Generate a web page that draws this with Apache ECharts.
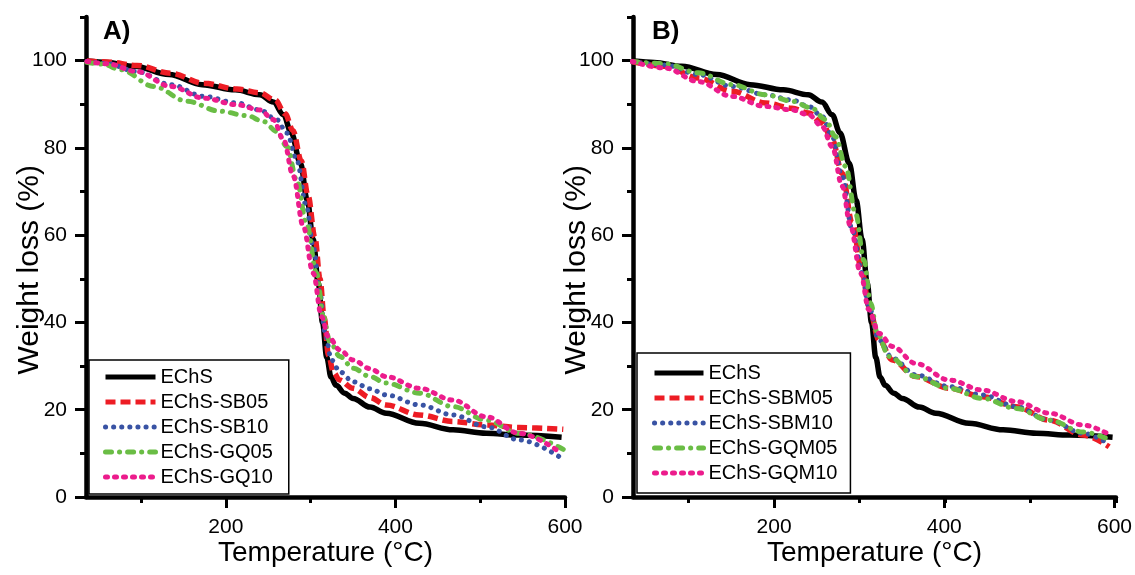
<!DOCTYPE html>
<html>
<head>
<meta charset="utf-8">
<script src="https://cdn.jsdelivr.net/npm/echarts@6/dist/echarts.min.js"></script>
<style>
html,body{margin:0;padding:0;background:#fff;}
#chart{width:1135px;height:575px;}
</style>
</head>
<body>
<div id="chart"></div>
<script>
// ---------- data ----------
const panelTitles = ['A)', 'B)'];
const xTitle = 'Temperature (°C)';
const yTitle = 'Weight loss (%)';
const namesA = ['EChS', 'EChS-SB05', 'EChS-SB10', 'EChS-GQ05', 'EChS-GQ10'];
const namesB = ['EChS', 'EChS-SBM05', 'EChS-SBM10', 'EChS-GQM05', 'EChS-GQM10'];

// EChS (shared in both panels)
const echsT = [36, 60, 92, 133, 172, 211, 240, 256, 268, 277, 288, 296, 303, 309, 314, 319, 324, 330, 340, 350, 370, 389, 428, 468, 507, 546, 596];
const echsW = [99.9, 99.6, 98.7, 96.8, 94.5, 93.3, 92.2, 90.5, 87.6, 83.5, 76.5, 68, 59, 49, 40, 32, 27.5, 25.6, 23.8, 22.6, 20.6, 19.2, 16.9, 15.4, 14.6, 14.2, 13.7];

// Panel A
const sb05T = [36, 60, 95, 135, 174, 213, 240, 258, 270, 279, 289, 297, 305, 311, 316, 321, 327, 334, 350, 370, 389, 428, 468, 507, 546, 598];
const sb05W = [99.9, 99.7, 98.9, 97.1, 94.8, 93.5, 92.6, 91, 87.8, 84, 77, 69, 59.5, 50, 41, 32.5, 28.5, 26.8, 24.9, 22.8, 21.1, 18.8, 17.3, 16.5, 15.9, 15.5];
const sb10T = [36, 60, 95, 135, 174, 213, 240, 260, 272, 283.5, 295, 303, 311, 317, 324.6, 334.4, 350, 370, 389, 428.5, 468, 507, 546, 596];
const sb10W = [99.8, 99.3, 97.5, 94.5, 91.8, 90.3, 88.7, 86.5, 83.4, 77.3, 66.6, 57.4, 46.7, 37.5, 31.4, 28.7, 26.4, 24.8, 23.4, 21.1, 18.8, 16.1, 13.1, 8.9];
const gq05T = [36, 55, 76, 115, 154, 193, 225, 244, 260, 272, 283.5, 295, 307, 315, 322.7, 334.4, 350, 370, 389, 428.5, 468, 507, 546, 598];
const gq05W = [99.6, 99.2, 97.9, 94.1, 90.7, 88.4, 87.4, 86.1, 83.8, 80.3, 72.7, 62.7, 51.3, 41.3, 35.6, 32.2, 29.5, 27.6, 26.1, 23.8, 20.7, 17.6, 14.6, 10.9];
const gq10T = [36, 60, 95, 135, 174, 213, 240, 256, 268, 279.5, 291.3, 303, 313, 320.7, 334.4, 350, 370, 389, 428.5, 468, 507, 546, 596];
const gq10W = [99.8, 99.3, 97.5, 94.1, 91.4, 89.9, 88.7, 86.5, 81.9, 73.5, 62, 51.3, 41.3, 36.8, 33.7, 31.4, 29.4, 27.6, 24.9, 22.2, 18.4, 14.6, 10];

// Panel B
const sbm05T = [34, 72.5, 111.6, 150.7, 189.8, 221, 240.6, 256.3, 268, 279.7, 291.5, 303.2, 311, 322.7, 338.4, 365.8, 404.9, 444, 483, 522.2, 561.3, 592];
const sbm05W = [99.8, 98.7, 96, 93, 90.3, 89.1, 88, 85.7, 81.9, 74.2, 62.7, 51.3, 43.6, 36, 31.4, 27.6, 24.9, 23, 20.7, 17.6, 14.2, 11.5];
const sbm10T = [34, 72.5, 111.6, 150.7, 189.8, 221, 240.6, 256.3, 268, 279.7, 291.5, 303.2, 311, 322.7, 338.4, 365.8, 404.9, 444, 483, 522.2, 561.3, 593];
const sbm10W = [99.8, 99, 96.8, 94.1, 92.2, 91, 89.5, 87.2, 82.6, 73.5, 61.2, 51.3, 43.6, 36, 31.8, 28, 25.3, 23.4, 20.7, 17.6, 14.6, 12];
const gqm05T = [34, 72.5, 111.6, 150.7, 189.8, 221, 244.5, 260.2, 271.9, 283.6, 295.4, 305.1, 313, 320.8, 334.5, 365.8, 404.9, 444, 483, 522.2, 561.3, 594];
const gqm05W = [99.8, 99.3, 97.2, 94.5, 92.2, 90.7, 89.1, 86.5, 82.6, 75.8, 65, 54.3, 44.4, 37.5, 32.2, 27.6, 24.9, 22.6, 20.3, 17.6, 14.9, 13];
const gqm10T = [34, 72.5, 111.6, 150.7, 189.8, 221, 240.6, 256.3, 268, 279.7, 289.5, 301.2, 311, 322.7, 338.4, 365.8, 404.9, 444, 483, 522.2, 561.3, 595];
const gqm10W = [99.8, 98.3, 95.2, 91.8, 89.5, 88.7, 87.6, 84.9, 80.3, 71.2, 62, 51.3, 42.9, 37.5, 34.5, 30.6, 26.8, 24.5, 21.9, 19.2, 16.5, 14];

// ---------- styling ----------
const FONT = '"Liberation Sans", Arial, Helvetica, sans-serif';
const styles = [
  { color: '#000000', type: 'solid', width: 5.5, cap: 'butt' },
  { color: '#ED1C24', type: [10, 5], width: 5.5, cap: 'butt' },
  { color: '#3953A4', type: [0.1, 8], width: 5, cap: 'round' },
  { color: '#6ABD45', type: [6, 8, 0.1, 8], width: 5, cap: 'round' },
  { color: '#EC1C8C', type: [2, 7], width: 5, cap: 'round' }
];
const pair = (T, W) => T.map((t, i) => [t, W[i]]);
const seriesA = [pair(echsT, echsW), pair(sb05T, sb05W), pair(sb10T, sb10W), pair(gq05T, gq05W), pair(gq10T, gq10W)];
const seriesB = [pair(echsT, echsW), pair(sbm05T, sbm05W), pair(sbm10T, sbm10W), pair(gqm05T, gqm05W), pair(gqm10T, gqm10W)];

// panel geometry (px)
const W_ = 1135, H_ = 575;
const plotTop = 17, plotBottom = 497;
const yMax = 110;
const xMin = 35, xMax = 600;
const panels = [
  { left: 86, right: 565 },
  { left: 633, right: 1116 }
];
const yPix = v => plotBottom - (plotBottom - plotTop) * v / yMax;

const grid = [], xAxis = [], yAxis = [], series = [];
const hiddenY = { show: false, min: 0, max: 1 };
const hiddenX = { show: false, min: 0, max: 1 };

panels.forEach((p, pi) => {
  const xPix = v => p.left + (p.right - p.left) * (v - xMin) / (xMax - xMin);
  const base = grid.length;
  grid.push({ left: p.left, right: W_ - p.right, top: plotTop, bottom: H_ - plotBottom });
  xAxis.push({
    gridIndex: base, type: 'value', min: xMin, max: xMax,
    axisLine: { show: true, onZero: false, lineStyle: { color: '#000', width: 4.5 } },
    axisTick: { show: false }, axisLabel: { show: false }, splitLine: { show: false },
    name: xTitle, nameLocation: 'middle', nameGap: 42, nameMoveOverlap: false,
    nameTextStyle: { fontFamily: FONT, fontSize: 28, color: '#000' }
  });
  yAxis.push({
    gridIndex: base, type: 'value', min: 0, max: yMax, interval: 10,
    axisLine: { show: true, onZero: false, lineStyle: { color: '#000', width: 4.5 } },
    axisTick: { show: true, length: 6, lineStyle: { color: '#000', width: 3 } },
    axisLabel: { show: false }, splitLine: { show: false }
  });
  grid.push({ left: p.left, right: W_ - p.right, top: yPix(100), bottom: H_ - plotBottom });
  xAxis.push(Object.assign({ gridIndex: base + 1 }, hiddenX));
  yAxis.push({
    gridIndex: base + 1, type: 'value', min: 0, max: 100, interval: 20,
    axisLine: { show: false }, splitLine: { show: false },
    axisTick: { show: true, length: 11, lineStyle: { color: '#000', width: 3 } },
    axisLabel: { show: true, margin: 19, fontFamily: FONT, fontSize: 21, color: '#000' },
    name: yTitle, nameLocation: 'middle', nameGap: 41, nameRotate: 90, nameMoveOverlap: false,
    nameTextStyle: { fontFamily: FONT, fontSize: 30, color: '#000', padding: [0, 0, 0, 18] }
  });
  grid.push({ left: xPix(100), right: W_ - p.right, top: plotTop, bottom: H_ - plotBottom });
  xAxis.push({
    gridIndex: base + 2, type: 'value', min: 100, max: 600, interval: 100,
    axisLine: { show: false }, splitLine: { show: false }, axisLabel: { show: false },
    axisTick: { show: true, length: 6, lineStyle: { color: '#000', width: 3 } }
  });
  yAxis.push(Object.assign({ gridIndex: base + 2 }, hiddenY));
  grid.push({ left: xPix(200), right: W_ - p.right, top: plotTop, bottom: H_ - plotBottom });
  xAxis.push({
    gridIndex: base + 3, type: 'value', min: 200, max: 600, interval: 200,
    axisLine: { show: false }, splitLine: { show: false },
    axisTick: { show: true, length: 11, lineStyle: { color: '#000', width: 3 } },
    axisLabel: { show: true, margin: 20, fontFamily: FONT, fontSize: 21, color: '#000' }
  });
  yAxis.push(Object.assign({ gridIndex: base + 3 }, hiddenY));

  const names = pi === 0 ? namesA : namesB;
  const data = pi === 0 ? seriesA : seriesB;
  names.forEach((n, i) => {
    const s = styles[i];
    series.push({
      name: n, type: 'line', xAxisIndex: base, yAxisIndex: base,
      data: data[i], symbol: 'none', showSymbol: false, smooth: 0.35, smoothMonotone: 'x',
      lineStyle: { color: s.color, width: s.width, type: s.type, cap: s.cap },
      itemStyle: { color: s.color },
      z: 2 + i, animation: false
    });
  });
});

const legendCommon = {
  orient: 'vertical', itemWidth: 50, itemHeight: 20, itemGap: 5,
  borderColor: '#000', borderWidth: 1.5, backgroundColor: '#fff',
  textStyle: { fontFamily: FONT, fontSize: 20, color: '#000' },
  itemStyle: { opacity: 0, borderWidth: 0 },
  lineStyle: { width: 5 },
  selectedMode: false
};

const option = {
  backgroundColor: '#fff',
  animation: false,
  title: [
    { text: panelTitles[0], left: 103, top: 19, padding: 0, textStyle: { fontFamily: FONT, fontSize: 26, fontWeight: 'bold', color: '#000' } },
    { text: panelTitles[1], left: 652, top: 19, padding: 0, textStyle: { fontFamily: FONT, fontSize: 26, fontWeight: 'bold', color: '#000' } }
  ],
  legend: [
    Object.assign({}, legendCommon, { data: namesA, left: 89, top: 360, padding: [7, 16, 7, 14] }),
    Object.assign({}, legendCommon, { data: namesB, left: 637, top: 353, padding: [10, 13, 10, 15], itemWidth: 49 })
  ],
  grid, xAxis, yAxis, series
};

const chart = echarts.init(document.getElementById('chart'), null, { renderer: 'canvas' });
chart.setOption(option);
</script>
</body>
</html>
